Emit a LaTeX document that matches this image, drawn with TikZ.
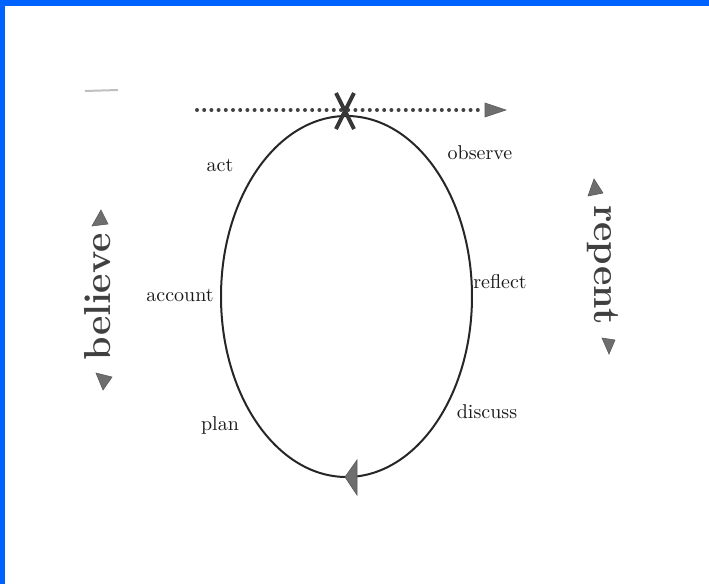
\documentclass[tikz,border=0pt]{standalone}
\usepackage{tikz}
\usetikzlibrary{positioning,calc}
\definecolor{frameblue}{HTML}{0062FF}
\definecolor{inkgray}{HTML}{6E6E6E}

\begin{document}
\begin{tikzpicture}[
    x=0.5pt,y=-0.5pt,
    cyc/.style  = {draw=black!85,line width=1pt},
    stage/.style = {font=\normalsize,text=black!90},
    side/.style = {font=\fontsize{18.8}{22}\selectfont\bfseries,text=black!75},
    tipf/.style = {fill=inkgray,draw=inkgray!80!black,line width=0.3pt},
  ]
  \useasboundingbox (0,0) rectangle (709,584);

  % Cadre bleu
  \fill[frameblue] (0,0) rectangle (709,6);
  \fill[frameblue] (0,0) rectangle (5,584);
  \draw[black!25,line width=1pt] (85,91) -- (118,90);

  % Cycle
  \draw[cyc] (346.5,296.5) ellipse [x radius=125.5,y radius=180.5];
  \draw[tipf] (345,477) -- (357,460) -- (357,495) -- cycle;

  % Ligne pointillee et croix
  \coordinate (dotA) at (197,110);
  \coordinate (dotB) at (484,110);
  \draw[inkgray!60!black,line width=2pt,line cap=round,
        dash pattern=on 0pt off 3.6pt] (dotA) -- (dotB);
  \draw[tipf] (485,103) -- (506,110) -- (485,117) -- cycle;
  \draw[inkgray!50!black,line width=2pt] (336,93) -- (354,129);
  \draw[inkgray!50!black,line width=2pt] (354,93) -- (336,129);

  % Etapes
  \node[stage] (act)     at (220,165) {act};
  \node[stage] (observe) at (480,153) {observe};
  \node[stage] (account) at (180,295) {account};
  \node[stage] (reflect) at (500,282) {reflect};
  \node[stage] (plan)    at (220,425) {plan};
  \node[stage] (discuss) at (487,412) {discuss};

  % Cotes
  \node[side,rotate=90]  (believe) at (98,297)  {believe};
  \draw[tipf] (92,226) -- (108,224) -- (101,210) -- cycle;
  \draw[tipf] (96,373) -- (112,377) -- (103,390) -- cycle;

  \node[side,rotate=-90] (repent)  at (603,265) {repent};
  \draw[tipf] (588,196) -- (603,193) -- (594,179) -- cycle;
  \draw[tipf] (602,338) -- (615,340) -- (609,354) -- cycle;

\end{tikzpicture}
\end{document}
